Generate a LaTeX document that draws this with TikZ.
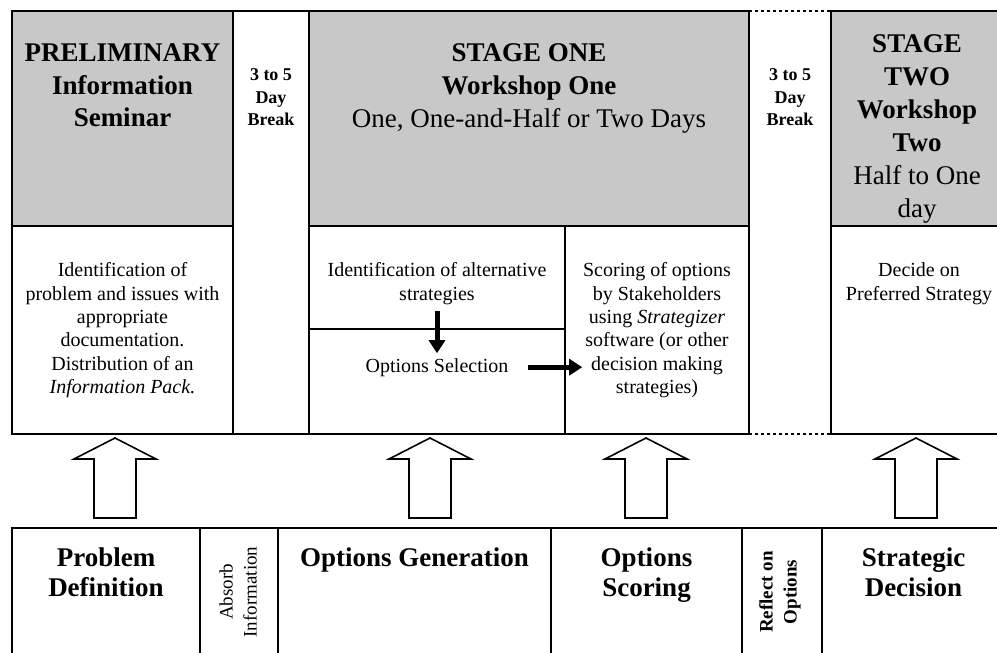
\documentclass[tikz,border=0pt]{standalone}
\usepackage{fontspec}
\setmainfont{Liberation Serif}
\usetikzlibrary{arrows.meta}
\definecolor{hgray}{RGB}{200,200,200}
\begin{document}
\begin{tikzpicture}[x=1pt,y=-1pt,line width=1.8pt,
  hdr/.style={align=center,inner sep=0pt,anchor=north,font=\bfseries\fontsize{27}{33}\selectfont},
  brk/.style={align=center,inner sep=0pt,anchor=north,font=\bfseries\fontsize{18}{22.5}\selectfont},
  body/.style={align=center,inner sep=0pt,anchor=north,font=\fontsize{20}{23.3}\selectfont},
  phase/.style={align=center,inner sep=0pt,anchor=north,font=\bfseries\fontsize{27}{30}\selectfont},
  vert/.style={align=center,inner sep=0pt,rotate=90,font=\fontsize{19}{24}\selectfont},
  dotline/.style={line width=1.5pt,dash pattern=on 3pt off 3pt},
  hollow/.style={line width=1.6pt,fill=white,line join=miter},
  blackarrow/.style={line width=5pt,-{Triangle[length=13pt,width=16pt]}}]
\useasboundingbox (0,0) rectangle (997,653);
\clip (0,0) rectangle (997,653);
\fill[white] (0,0) rectangle (997,653);
% grey headers
\fill[hgray] (12,11) rectangle (233,226);
\fill[hgray] (309,11) rectangle (749,226);
\fill[hgray] (831,11) rectangle (1005,226);
% upper frames
\draw (12,11) rectangle (233,434);
\draw (12,226) -- (233,226);
\draw (233,11) rectangle (309,434);
\draw (309,11) rectangle (749,434);
\draw (309,226) -- (749,226);
\draw (565,226) -- (565,434);
\draw (309,329) -- (565,329);
\draw[dotline] (749,11) -- (831,11);
\draw[dotline] (749,434) -- (831,434);
\draw (831,11) rectangle (1005,434);
\draw (831,226) -- (1005,226);
% lower frames
\draw (12,528) rectangle (1005,670);
\foreach \xx in {200,278,551,742,822} \draw (\xx,528) -- (\xx,670);
% hollow arrows
\foreach \cx in {115,430,646,916}
  \draw[hollow] (\cx,438) -- (\cx+41,459) -- (\cx+21,459) -- (\cx+21,518)
     -- (\cx-21,518) -- (\cx-21,459) -- (\cx-41,459) -- cycle;
% header texts
\node[hdr,font=\bfseries\fontsize{27}{32.5}\selectfont] (prelim) at (122.5,43) {PRELIMINARY\\Information\\Seminar};
\node[brk] (break1) at (271,68) {3 to 5\\Day\\Break};
\node[hdr] (stage1) at (529,43) {STAGE ONE\\Workshop One\\{\mdseries One, One-and-Half or Two Days}};
\node[brk] (break2) at (790,68) {3 to 5\\Day\\Break};
\node[hdr] (stage2) at (917,34) {STAGE\\TWO\\Workshop\\Two\\{\mdseries Half to One}\\{\mdseries day}};
% body texts
\node[body] (probid) at (122.5,262) {Identification of\\problem and issues with\\appropriate\\documentation.\\Distribution of an\\\textit{Information Pack.}};
\node[body] (idalt) at (437,262) {Identification of alternative\\strategies};
\node[body,anchor=base] (optsel) at (437,372) {Options Selection};
\node[body] (scoring) at (657,262) {Scoring of options\\by Stakeholders\\using \textit{Strategizer}\\software (or other\\decision making\\strategies)};
\node[body] (decide) at (919,262) {Decide on\\Preferred Strategy};
% internal arrows
\draw[blackarrow,shorten <=5pt,shorten >=4pt] (idalt.south) -- (optsel.north);
\draw[blackarrow,shorten <=19pt] (optsel.east) -- (optsel.east -| scoring.west);
% lower phase texts
\node[phase] (probdef) at (106,547) {Problem\\Definition};
\node[vert] (absorb) at (238,592) {Absorb\\Information};
\node[phase] (optgen) at (414.5,547) {Options Generation};
\node[phase] (optscore) at (646.5,547) {Options\\Scoring};
\node[vert,font=\bfseries\fontsize{19}{24}\selectfont] (reflect) at (780,592) {Reflect on\\Options};
\node[phase] (strat) at (913.5,547) {Strategic\\Decision};
\end{tikzpicture}
\end{document}
